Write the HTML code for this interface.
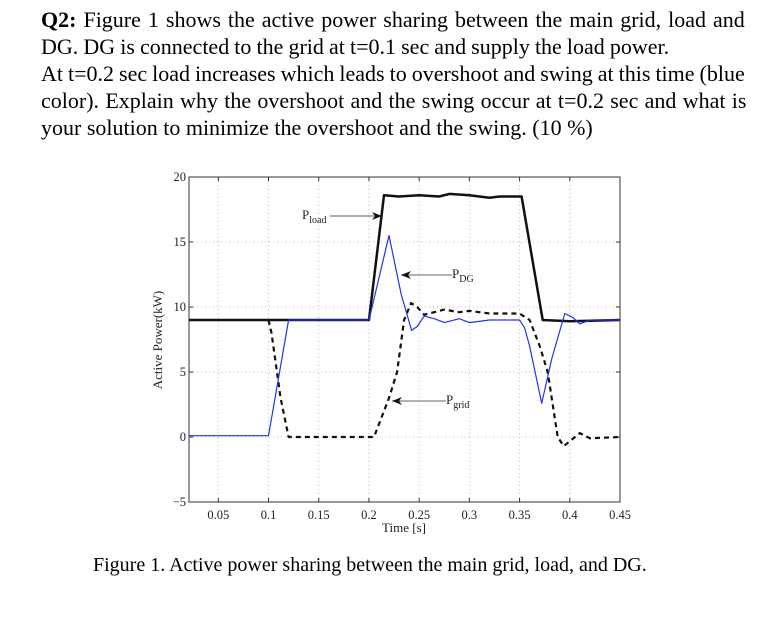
<!DOCTYPE html>
<html><head><meta charset="utf-8">
<style>
body{margin:0;background:#fff;width:773px;height:629px;overflow:hidden;position:relative;font-family:"Liberation Serif",serif;}
#q{position:absolute;left:41px;top:6px;width:730px;font-size:22px;line-height:27px;color:#000;}
#q .l{display:block;white-space:nowrap;}
#cap{position:absolute;left:93px;top:554px;font-size:20px;white-space:nowrap;}
svg{position:absolute;left:0;top:0;}
</style></head><body>
<div id="q">
<span class="l" style="word-spacing:1.5px"><b>Q2:</b> Figure 1 shows the active power sharing between the main grid, load and</span>
<span class="l" style="word-spacing:-0.4px">DG. DG is connected to the grid at t=0.1 sec and supply the load power.</span>
<span class="l" style="word-spacing:-0.5px">At t=0.2 sec load increases which leads to overshoot and swing at this time (blue</span>
<span class="l" style="word-spacing:0.8px">color). Explain why the overshoot and the swing occur at t=0.2 sec and what is</span>
<span class="l">your solution to minimize the overshoot and the swing. (10 %)</span>
</div>
<div id="cap">Figure 1. Active power sharing between the main grid, load, and DG.</div>
<svg id="chart" width="773" height="629"></svg>
<script>
const xTicks=[0.05,0.1,0.15,0.2,0.25,0.3,0.35,0.4,0.45];
const xTickLabels=["0.05","0.1","0.15","0.2","0.25","0.3","0.35","0.4","0.45"];
const yTicks=[-5,0,5,10,15,20];
const yTickLabels=["\u22125","0","5","10","15","20"];
const loadT=[0.021,0.1,0.2,0.215,0.23,0.25,0.27,0.28,0.3,0.31,0.32,0.33,0.352,0.373,0.4,0.45];
const loadV=[9,9,9,18.6,18.5,18.6,18.5,18.7,18.6,18.5,18.4,18.5,18.5,9,8.9,9];
const dgT=[0.021,0.1,0.12,0.2,0.22,0.232,0.2425,0.248,0.255,0.265,0.275,0.29,0.3,0.32,0.35,0.355,0.36,0.372,0.382,0.395,0.403,0.41,0.42,0.45];
const dgV=[0.1,0.1,9,9,15.5,11,8.2,8.5,9.3,9.1,8.8,9.1,8.8,9,9,8.4,7,2.6,6,9.5,9.2,8.7,9,9];
const gridT=[0.1,0.103,0.112,0.12,0.205,0.21,0.22,0.228,0.235,0.242,0.248,0.255,0.275,0.29,0.3,0.32,0.35,0.36,0.37,0.378,0.388,0.394,0.41,0.42,0.45];
const gridV=[9,8,3,0,0,1,3,5,9,10.3,10,9.4,9.8,9.6,9.7,9.5,9.5,9,7,5,0,-0.7,0.3,-0.1,0];
const X0=0.0208,X1=0.45,Y0=-5,Y1=20;
const L=189,R=620,T=177,B=502;
const xs=t=>L+(t-X0)/(X1-X0)*(R-L);
const ys=v=>B-(v-Y0)/(Y1-Y0)*(B-T);
const svg=document.getElementById('chart');
const NS='http://www.w3.org/2000/svg';
function mk(tag,attrs,parent){const e=document.createElementNS(NS,tag);for(const k in attrs)e.setAttribute(k,attrs[k]);(parent||svg).appendChild(e);return e;}
const g=mk('g',{});


xTicks.forEach(t=>{mk('line',{x1:xs(t),x2:xs(t),y1:T,y2:B,stroke:'#bbb','stroke-dasharray':'1,3','stroke-width':1},g);});
yTicks.forEach(v=>{mk('line',{x1:L,x2:R,y1:ys(v),y2:ys(v),stroke:'#bbb','stroke-dasharray':'1,3','stroke-width':1},g);});
const ax=mk('rect',{x:L,y:T,width:R-L,height:B-T,fill:'none',stroke:'#333','stroke-width':1});


xTicks.forEach((t,i)=>{
 mk('line',{x1:xs(t),x2:xs(t),y1:B,y2:B-4,stroke:'#333'});mk('line',{x1:xs(t),x2:xs(t),y1:T,y2:T+4,stroke:'#333'});
 const tx=mk('text',{x:xs(t),y:B+17,'text-anchor':'middle','font-size':12.5,fill:'#222'});tx.textContent=xTickLabels[i];
 
 
});
yTicks.forEach((v,i)=>{
 mk('line',{x1:L,x2:L+4,y1:ys(v),y2:ys(v),stroke:'#333'});mk('line',{x1:R,x2:R-4,y1:ys(v),y2:ys(v),stroke:'#333'});
 const tx=mk('text',{x:L-3,y:ys(v)+4,'text-anchor':'end','font-size':12.5,fill:'#222'});tx.textContent=yTickLabels[i];
 
 
});
const xt=mk('text',{x:404,y:532,'text-anchor':'middle','font-size':13,fill:'#222'});xt.textContent='Time [s]';


const yt=mk('text',{x:0,y:0,'text-anchor':'middle','font-size':13,fill:'#222',transform:'translate(162,340) rotate(-90)'});yt.textContent='Active Power(kW)';


function path(T_,V_){return T_.map((t,i)=>(i?'L':'M')+xs(t).toFixed(1)+','+ys(V_[i]).toFixed(1)).join(' ');}
const pg=mk('path',{d:path(gridT,gridV),fill:'none',stroke:'#111','stroke-width':2.2,'stroke-dasharray':'5,4','stroke-linejoin':'round'});


const pl=mk('path',{d:path(loadT,loadV),fill:'none',stroke:'#111','stroke-width':2.5,'stroke-linejoin':'round'});


const pd=mk('path',{d:path(dgT,dgV),fill:'none',stroke:'#2233ee','stroke-width':1.2,'stroke-linejoin':'round'});


function ann(name,x,y,sub,ax1,ax2){
 const a=mk('g',{});
 
 
 const t=mk('text',{x:x,y:y,'font-size':13,fill:'#222'},a);
 t.innerHTML='P<tspan font-size="10" dy="4">'+sub+'</tspan>';
 mk('line',{x1:ax1,x2:ax2,y1:y-3,y2:y-3,stroke:'#333','stroke-width':0.8},a);
 const d=ax2>ax1?1:-1;
 mk('path',{d:`M${ax2},${y-3} L${ax2-d*10},${y-7} L${ax2-d*7},${y-3} L${ax2-d*10},${y+1} Z`,fill:'#111'},a);
}
ann('p-load-label',302,219,'load',330,382);
ann('p-dg-label',452,278,'DG',452,401);
ann('p-grid-label',446,404,'grid',446,392);
</script>
</body></html>
